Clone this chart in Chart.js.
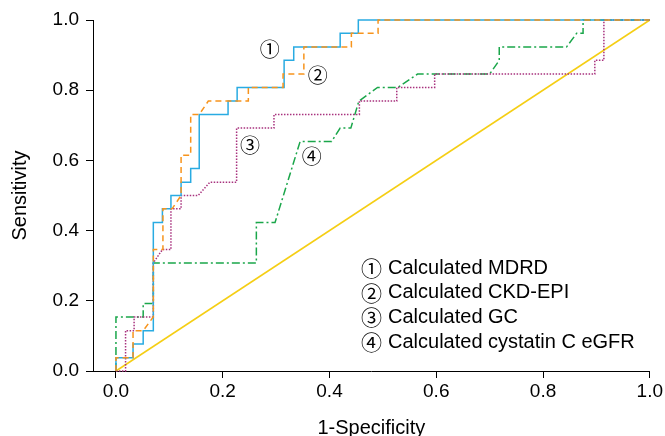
<!DOCTYPE html>
<html>
<head>
<meta charset="utf-8">
<script src="https://cdn.jsdelivr.net/npm/chart.js@4.4.1/dist/chart.umd.min.js"></script>
<style>
    html, body { margin: 0; padding: 0; background: #ffffff; }
    #wrap { width: 665px; height: 436px; }
</style>
</head>
<body>
<div id="wrap"><canvas id="rocChart"></canvas></div>
<script>
"use strict";

// ------------------------------------
// Chart values
// ------------------------------------

const xTicks = [0, 0.2, 0.4, 0.6, 0.8, 1.0];
const yTicks = [0, 0.2, 0.4, 0.6, 0.8, 1.0];

const seriesNames = [
    "Calculated MDRD",
    "Calculated CKD-EPI",
    "Calculated GC",
    "Calculated cystatin C eGFR"
];
const seriesMarks = ["\u2460", "\u2461", "\u2462", "\u2463"];

// corner points of each ROC curve: 1-specificity / sensitivity
const mdrdFpr = [0, 0, 0.032, 0.032, 0.051, 0.051, 0.07, 0.07, 0.087, 0.087, 0.103, 0.103, 0.122, 0.122, 0.14, 0.14, 0.156, 0.156, 0.21, 0.21, 0.227, 0.227, 0.315, 0.315, 0.333, 0.333, 0.42, 0.42, 0.454, 0.454, 1];
const mdrdTpr = [0, 0.038, 0.038, 0.077, 0.077, 0.115, 0.115, 0.423, 0.423, 0.462, 0.462, 0.5, 0.5, 0.538, 0.538, 0.577, 0.577, 0.731, 0.731, 0.769, 0.769, 0.808, 0.808, 0.885, 0.885, 0.923, 0.923, 0.962, 0.962, 1, 1];

const ckdFpr = [0, 0, 0.032, 0.032, 0.051, 0.07, 0.07, 0.088, 0.088, 0.105, 0.122, 0.122, 0.14, 0.14, 0.156, 0.173, 0.248, 0.248, 0.313, 0.313, 0.352, 0.352, 0.441, 0.441, 0.491, 0.491, 1];
const ckdTpr = [0, 0.038, 0.038, 0.115, 0.115, 0.154, 0.346, 0.346, 0.462, 0.462, 0.5, 0.615, 0.615, 0.731, 0.731, 0.769, 0.769, 0.808, 0.808, 0.846, 0.846, 0.923, 0.923, 0.962, 0.962, 1, 1];

const gcFpr = [0, 0.018, 0.018, 0.034, 0.034, 0.07, 0.07, 0.087, 0.103, 0.103, 0.122, 0.122, 0.154, 0.176, 0.226, 0.226, 0.296, 0.296, 0.456, 0.456, 0.526, 0.526, 0.597, 0.597, 0.897, 0.897, 0.914, 0.914, 1];
const gcTpr = [0, 0, 0.115, 0.115, 0.154, 0.154, 0.308, 0.346, 0.346, 0.462, 0.462, 0.5, 0.5, 0.538, 0.538, 0.692, 0.692, 0.731, 0.731, 0.769, 0.769, 0.808, 0.808, 0.846, 0.846, 0.885, 0.885, 1, 1];

const cysFpr = [0, 0, 0.051, 0.051, 0.07, 0.07, 0.263, 0.263, 0.298, 0.345, 0.404, 0.42, 0.44, 0.455, 0.49, 0.528, 0.565, 0.70, 0.718, 0.718, 0.844, 0.863, 0.875, 0.875, 1];
const cysTpr = [0, 0.154, 0.154, 0.192, 0.192, 0.308, 0.308, 0.423, 0.423, 0.654, 0.654, 0.692, 0.692, 0.769, 0.808, 0.808, 0.846, 0.846, 0.885, 0.923, 0.923, 0.962, 0.962, 1, 1];

const refFpr = [0, 1];
const refTpr = [0, 1];

// ------------------------------------
// Helpers
// ------------------------------------

const textFont = "'Liberation Sans', Arial, Helvetica, sans-serif";
const markFont = "'Noto Sans CJK JP', 'DejaVu Sans', sans-serif";

function toPoints(xs, ys) {
    return xs.map((x, i) => ({ x: x, y: ys[i] }));
}

function curve(label, xs, ys, color, dash) {
    return {
        label: label,
        data: toPoints(xs, ys),
        showLine: true,
        borderColor: color,
        backgroundColor: color,
        borderWidth: 1.5,
        borderDash: dash,
        pointRadius: 0,
        pointHoverRadius: 0,
        clip: false
    };
}

// circled numbers beside the curves and the text key at lower right
const markPlugin = {
    id: "markPlugin",
    afterDatasetsDraw(chart) {
        const ctx = chart.ctx;
        const xs = chart.scales.x;
        const ys = chart.scales.y;
        const spots = [[0.288, 0.915], [0.378, 0.843], [0.251, 0.644], [0.367, 0.610]];

        ctx.save();
        ctx.fillStyle = "#000000";
        ctx.textBaseline = "middle";

        ctx.textAlign = "center";
        ctx.font = "20px " + markFont;
        spots.forEach((s, i) => {
            ctx.fillText(seriesMarks[i], xs.getPixelForValue(s[0]), ys.getPixelForValue(s[1]));
        });

        seriesNames.forEach((name, i) => {
            const y = 268 + i * 24.7;
            ctx.textAlign = "left";
            ctx.font = "21px " + markFont;
            ctx.fillText(seriesMarks[i], 361, y);
            ctx.font = "20px " + textFont;
            ctx.fillText(name, 388, y);
        });

        ctx.restore();
    }
};

// ------------------------------------
// Chart
// ------------------------------------

const canvas = document.querySelector("#rocChart");

new Chart(canvas, {
    type: "scatter",
    data: {
        datasets: [
            curve(seriesNames[1], ckdFpr, ckdTpr, "#F7941D", [6, 4]),
            curve(seriesNames[0], mdrdFpr, mdrdTpr, "#29ABE2", []),
            curve(seriesNames[2], gcFpr, gcTpr, "#A8327E", [1.5, 1.5]),
            curve(seriesNames[3], cysFpr, cysTpr, "#1AA64A", [8, 3, 2, 3]),
            curve("Reference", refFpr, refTpr, "#F5CE14", [])
        ]
    },
    options: {
        animation: false,
        responsive: true,
        maintainAspectRatio: false,
        layout: {
            padding: { top: 20, right: 15, left: 0, bottom: 0 }
        },
        plugins: {
            legend: { display: false },
            tooltip: { enabled: false }
        },
        scales: {
            x: {
                type: "linear",
                min: -0.043,
                max: 1,
                afterBuildTicks: scale => {
                    scale.ticks = xTicks.map(v => ({ value: v }));
                },
                afterFit: scale => {
                    scale.height = 65;
                },
                grid: {
                    drawOnChartArea: false,
                    drawTicks: true,
                    tickLength: 7,
                    color: "#000000"
                },
                border: { display: true, color: "#000000", width: 1 },
                ticks: {
                    color: "#000000",
                    font: { family: textFont, size: 19 },
                    padding: 2,
                    maxRotation: 0,
                    callback: value => Number(value).toFixed(1)
                },
                title: {
                    display: true,
                    text: "1-Specificity",
                    color: "#000000",
                    font: { family: textFont, size: 20, lineHeight: 1 },
                    padding: { top: 0, bottom: -2 }
                }
            },
            y: {
                type: "linear",
                min: 0,
                max: 1,
                afterBuildTicks: scale => {
                    scale.ticks = yTicks.map(v => ({ value: v }));
                },
                afterFit: scale => {
                    scale.width = 93;
                },
                grid: {
                    drawOnChartArea: false,
                    drawTicks: true,
                    tickLength: 7,
                    color: "#000000"
                },
                border: { display: true, color: "#000000", width: 1 },
                ticks: {
                    color: "#000000",
                    font: { family: textFont, size: 19 },
                    padding: 7,
                    callback: value => Number(value).toFixed(1)
                },
                title: {
                    display: true,
                    text: "Sensitivity",
                    color: "#000000",
                    font: { family: textFont, size: 20 },
                    padding: { top: 8, bottom: 0 }
                }
            }
        }
    },
    plugins: [markPlugin]
});
</script>
</body>
</html>
